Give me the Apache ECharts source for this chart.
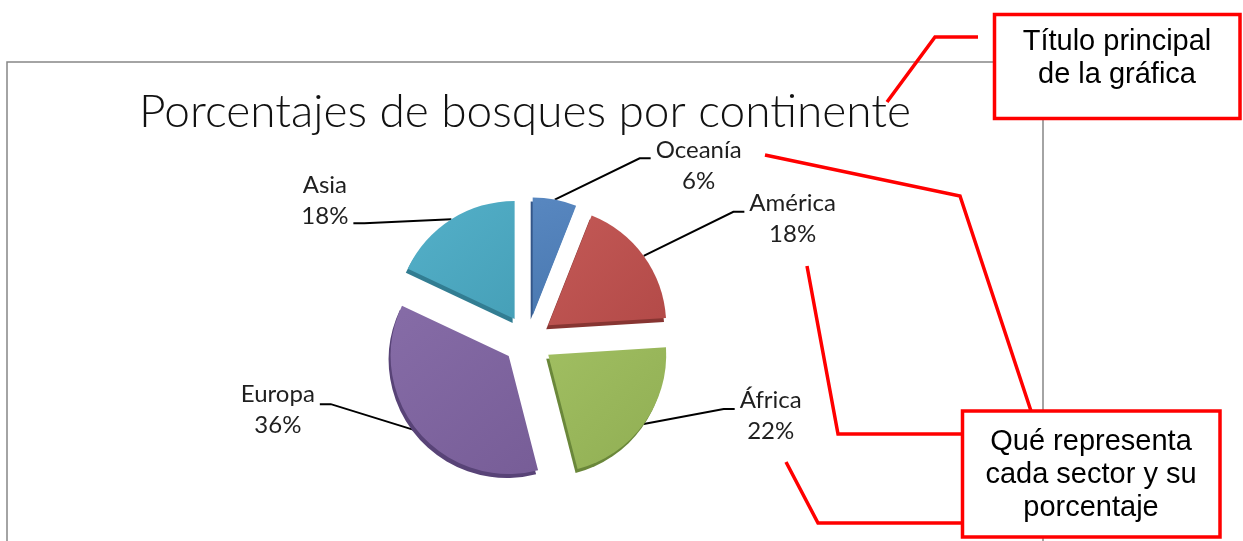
<!DOCTYPE html>
<html>
<head>
<meta charset="utf-8">
<script src="https://cdn.jsdelivr.net/npm/echarts@6/dist/echarts.min.js"></script>
<style>
  html, body { margin: 0; padding: 0; background: #ffffff; }
  #chart { width: 1243px; height: 541px; }
</style>
</head>
<body>
<div id="chart"></div>
<script>
// Forest share by continent (percent)
const continents = ['Oceanía', 'América', 'África', 'Europa', 'Asia'];
const forestShare = [6, 18, 22, 36, 18];

const chartTitle = 'Porcentajes de bosques por continente';
const noteTitle = ['Título principal', 'de la gráfica'];
const noteSectors = ['Qué representa', 'cada sector y su', 'porcentaje'];

// Slice fill and the darker edge that gives the slices some thickness
const sliceColors = ['#4F81BD', '#C0504D', '#9BBB59', '#8064A2', '#4BACC6'];
const edgeColors = ['#34578a', '#873532', '#6a873a', '#584377', '#327d92'];

// Leader line legs, vertical lift of the stub and vertical shift of the text
const labelPlacement = [
  { len: 42, len2: 88, lift: 0, shift: 7 },
  { len: 75, len2: 40, lift: 0, shift: 7 },
  { len: 0, len2: 91, lift: -15, shift: -8 },
  { len: 0, len2: 98, lift: -27, shift: -21 },
  { len: 0, len2: 98, lift: 4, shift: -18 }
];

function mix(hex, target, t) {
  const a = parseInt(hex.slice(1), 16), b = parseInt(target.slice(1), 16);
  const ch = (v, s) => (v >> s) & 255;
  const c = s => Math.round(ch(a, s) + (ch(b, s) - ch(a, s)) * t);
  return 'rgb(' + c(16) + ',' + c(8) + ',' + c(0) + ')';
}

const sliceData = continents.map((name, i) => {
  const p = labelPlacement[i];
  const pad = p.shift >= 0 ? [2 * p.shift, 0, 0, 0] : [0, 0, -2 * p.shift, 0];
  return {
    name: name,
    value: forestShare[i],
    selected: true,
    itemStyle: {
      color: new echarts.graphic.LinearGradient(0, 0, 1, 1, [
        { offset: 0, color: mix(sliceColors[i], '#ffffff', 0.05) },
        { offset: 1, color: mix(sliceColors[i], '#000000', 0.07) }
      ]),
      shadowColor: edgeColors[i],
      shadowBlur: 0,
      shadowOffsetX: -2,
      shadowOffsetY: 4
    },
    label: { padding: pad },
    labelLine: { length: p.len, length2: p.len2 }
  };
});

const labelFont = { fontFamily: 'Lato', fontSize: 24, color: '#1f1f1f' };
const noteFont = { fontFamily: 'Liberation Sans', fontSize: 29, lineHeight: 33, fill: '#000000' };
const red = '#ff0000';

const chart = echarts.init(document.getElementById('chart'), null, { renderer: 'canvas' });

chart.setOption({
  backgroundColor: '#ffffff',
  animation: false,
  title: {
    text: chartTitle,
    left: 520,
    top: 84,
    textAlign: 'center',
    textStyle: { fontFamily: 'Lato', fontWeight: 300, fontSize: 46, color: '#111111' }
  },
  series: [{
    type: 'pie',
    center: [528, 340],
    radius: 118,
    startAngle: 90,
    clockwise: true,
    selectedMode: 'multiple',
    selectedOffset: 25,
    avoidLabelOverlap: false,
    emphasis: { disabled: true },
    select: { itemStyle: { borderWidth: 0 } },
    label: {
      show: true,
      position: 'outside',
      distanceToLabelLine: 5,
      formatter: '{t|{b}}\n{t|{c}%}',
      ...labelFont,
      rich: { t: { ...labelFont, align: 'center', lineHeight: 31 } }
    },
    labelLine: {
      show: true,
      smooth: false,
      lineStyle: { color: '#000000', width: 2 }
    },
    labelLayout: function (params) {
      const pts = params.labelLinePoints;
      if (!pts) return {};
      const cfg = labelPlacement[params.dataIndex];
      const p0 = pts[0];
      const p2 = pts[pts.length - 1];
      const side = p2[0] >= p0[0] ? 1 : -1;
      const end = [p2[0], p2[1] + cfg.lift];
      const knee = [end[0] - side * 11, end[1]];
      return { labelLinePoints: [p0, knee, end] };
    },
    data: sliceData
  }],
  graphic: [
    // chart area frame
    {
      type: 'rect', z: 0, silent: true,
      shape: { x: 7, y: 62, width: 1036, height: 520 },
      style: { fill: 'none', stroke: '#868686', lineWidth: 1.5 }
    },
    // callout leaders
    {
      type: 'polyline', z: 100, silent: true,
      shape: { points: [[887, 102], [935, 37], [978, 37]] },
      style: { fill: 'none', stroke: red, lineWidth: 3.5 }
    },
    {
      type: 'polyline', z: 100, silent: true,
      shape: { points: [[765, 155], [960, 196], [1031, 411]] },
      style: { fill: 'none', stroke: red, lineWidth: 3.5 }
    },
    {
      type: 'polyline', z: 100, silent: true,
      shape: { points: [[807, 266], [838, 434], [962, 434]] },
      style: { fill: 'none', stroke: red, lineWidth: 3.5 }
    },
    {
      type: 'polyline', z: 100, silent: true,
      shape: { points: [[786, 462], [818, 523], [962, 523]] },
      style: { fill: 'none', stroke: red, lineWidth: 3.5 }
    },
    // callout boxes
    {
      type: 'rect', z: 101, silent: true,
      shape: { x: 994.5, y: 14.5, width: 245.5, height: 104 },
      style: { fill: '#ffffff', stroke: red, lineWidth: 3.5 }
    },
    {
      type: 'text', z: 102, silent: true,
      x: 1117, y: 58.5,
      style: { text: noteTitle.join('\n'), align: 'center', verticalAlign: 'middle', ...noteFont }
    },
    {
      type: 'rect', z: 101, silent: true,
      shape: { x: 962.5, y: 411, width: 257.5, height: 126 },
      style: { fill: '#ffffff', stroke: red, lineWidth: 3.5 }
    },
    {
      type: 'text', z: 102, silent: true,
      x: 1091, y: 475,
      style: { text: noteSectors.join('\n'), align: 'center', verticalAlign: 'middle', ...noteFont }
    }
  ]
});
</script>
</body>
</html>
